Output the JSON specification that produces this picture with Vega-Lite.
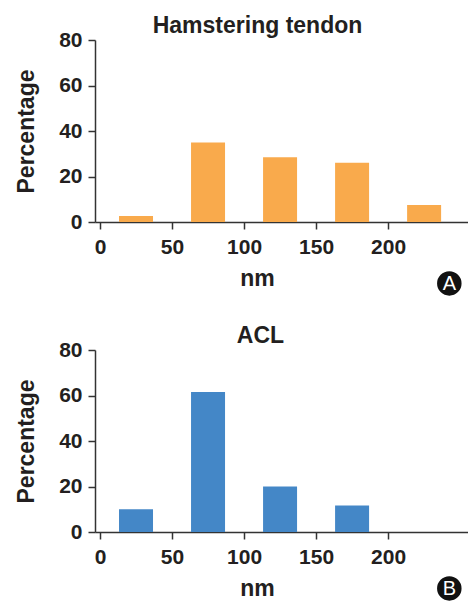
{
  "$schema": "https://vega.github.io/schema/vega-lite/v6.json",
  "padding": {"left": 15, "top": 15, "right": 0, "bottom": 0},
  "spacing": 29,
  "config": {
    "view": {"stroke": null},
    "font": "Liberation Sans",
    "axis": {
      "grid": false,
      "domainColor": "#333333",
      "domainWidth": 1.5,
      "tickColor": "#333333",
      "tickWidth": 1.5,
      "tickSize": 7,
      "labelFont": "Liberation Sans",
      "labelFontWeight": "bold",
      "labelFontSize": 21,
      "labelColor": "#231F20",
      "titleFont": "Liberation Sans",
      "titleFontWeight": "bold",
      "titleFontSize": 23,
      "titleColor": "#231F20"
    },
    "title": {"font": "Liberation Sans", "fontSize": 23, "fontWeight": "bold", "color": "#231F20"}
  },
  "datasets": {
    "hamstring": [
      {"nm": 25, "pct": 2.6},
      {"nm": 75, "pct": 35},
      {"nm": 125, "pct": 28.5},
      {"nm": 175, "pct": 26},
      {"nm": 225, "pct": 7.5}
    ],
    "acl": [
      {"nm": 25, "pct": 10},
      {"nm": 75, "pct": 61.5},
      {"nm": 125, "pct": 20},
      {"nm": 175, "pct": 11.6},
      {"nm": 225, "pct": 0}
    ],
    "labA": [{"label": "A"}],
    "labB": [{"label": "B"}]
  },
  "vconcat": [
    {
      "title": {"text": "Hamstering tendon", "anchor": "middle", "dx": -24, "offset": -9},
      "width": 373,
      "height": 182,
      "layer": [
        {
          "data": {"name": "hamstring"},
          "mark": {"type": "bar", "color": "#F9AA4C", "size": 34},
          "encoding": {
            "x": {"field": "nm", "type": "quantitative", "scale": {"domain": [0, 252], "nice": false}, "axis": {"values": [0, 50, 100, 150, 200], "title": "nm", "titleX": 162, "labelPadding": 7, "titlePadding": 10, "labelFlush": false}},
            "y": {"field": "pct", "type": "quantitative", "scale": {"domain": [0, 80]}, "axis": {"values": [0, 20, 40, 60, 80], "title": "Percentage", "labelPadding": 6, "titlePadding": 20}}
          }
        },
        {
          "data": {"name": "labA"},
          "mark": {"type": "point", "filled": true, "color": "#111111", "size": 600, "opacity": 1, "clip": false},
          "encoding": {"x": {"datum": 242.5}, "y": {"datum": -27}}
        },
        {
          "data": {"name": "labA"},
          "mark": {"type": "text", "color": "white", "fontSize": 20, "font": "Liberation Sans", "clip": false, "baseline": "middle", "align": "center", "dy": 1},
          "encoding": {"x": {"datum": 242.5}, "y": {"datum": -27}, "text": {"field": "label"}}
        }
      ]
    },
    {
      "title": {"text": "ACL", "anchor": "middle", "dx": -21, "offset": -9},
      "width": 373,
      "height": 182,
      "layer": [
        {
          "data": {"name": "acl"},
          "mark": {"type": "bar", "color": "#4487C7", "size": 34},
          "encoding": {
            "x": {"field": "nm", "type": "quantitative", "scale": {"domain": [0, 252], "nice": false}, "axis": {"values": [0, 50, 100, 150, 200], "title": "nm", "titleX": 162, "labelPadding": 7, "titlePadding": 10, "labelFlush": false}},
            "y": {"field": "pct", "type": "quantitative", "scale": {"domain": [0, 80]}, "axis": {"values": [0, 20, 40, 60, 80], "title": "Percentage", "labelPadding": 6, "titlePadding": 20}}
          }
        },
        {
          "data": {"name": "labB"},
          "mark": {"type": "point", "filled": true, "color": "#111111", "size": 600, "opacity": 1, "clip": false},
          "encoding": {"x": {"datum": 242.5}, "y": {"datum": -24.8}}
        },
        {
          "data": {"name": "labB"},
          "mark": {"type": "text", "color": "white", "fontSize": 20, "font": "Liberation Sans", "clip": false, "baseline": "middle", "align": "center", "dy": 1},
          "encoding": {"x": {"datum": 242.5}, "y": {"datum": -24.8}, "text": {"field": "label"}}
        }
      ]
    }
  ]
}
